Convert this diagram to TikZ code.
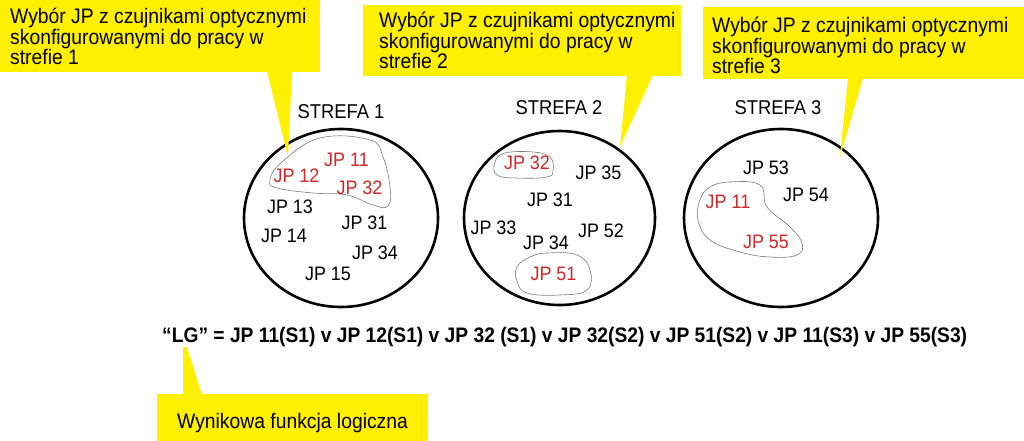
\documentclass[tikz,border=0pt]{standalone}
\usepackage{fontspec}
\setmainfont{Liberation Sans}[FakeStretch=0.92]
\usepackage{graphicx}
\usetikzlibrary{shapes.geometric}
\definecolor{callyellow}{RGB}{255,240,0}
\definecolor{jpred}{RGB}{210,40,40}
\definecolor{blobgray}{RGB}{120,120,120}
\tikzset{
  calloutbox/.style={fill=callyellow, draw=none},
  callouttext/.style={anchor=north west, inner sep=0pt, align=left, font=\fontsize{21}{20.5}\selectfont},
  zone/.style={draw=black, line width=2.6pt, ellipse, inner sep=0pt},
  zonelabel/.style={inner sep=0pt, font=\fontsize{20}{20}\selectfont},
  jp/.style={inner sep=0pt, font=\fontsize{19.5}{19.5}\selectfont},
  jpsel/.style={jp, text=jpred},
  blob/.style={draw=blobgray, line width=0.6pt},
}
\begin{document}
\begin{tikzpicture}[x=1pt,y=-1pt]
\useasboundingbox (0,0) rectangle (1024,441);
\fill[white] (0,0) rectangle (1024,441);

% zones
\node[zone, minimum width=194pt, minimum height=178pt] (z1) at (341,218) {};
\node[zone, minimum width=191pt, minimum height=174pt] (z2) at (559.5,218) {};
\node[zone, minimum width=194pt, minimum height=178pt] (z3) at (781,218) {};

\node[zonelabel] (s1) at (341,112) {STREFA 1};
\node[zonelabel] (s2) at (559,108) {STREFA 2};
\node[zonelabel] (s3) at (778,108) {STREFA 3};

% selection blobs
\draw[blob] plot[smooth cycle, tension=0.7] coordinates {(270,180) (282,162) (320,138) (370,140) (383,157) (390,187) (388,206) (373,205) (347,195) (313,193) (277,188)};
\draw[blob] plot[smooth cycle, tension=0.7] coordinates {(495,162) (505,153) (533,152) (550,157) (553,170) (547,177) (517,178) (497,175)};
\draw[blob] plot[smooth cycle, tension=0.7] coordinates {(517,267) (530,257) (547,253) (577,255) (590,270) (587,290) (560,295) (527,293) (517,281)};
\draw[blob] plot[smooth cycle, tension=0.7] coordinates {(700,200) (710,187) (730,182) (760,185) (767,207) (790,227) (802,243) (797,255) (770,257) (740,252) (710,240) (698,220)};

% zone 1
\node[jpsel] (a11) at (346.5,160) {JP 11};
\node[jpsel] (a12) at (296.5,176) {JP 12};
\node[jpsel] (a32) at (359.5,188) {JP 32};
\node[jp] (a13) at (290,207) {JP 13};
\node[jp] (a31) at (364.5,223) {JP 31};
\node[jp] (a14) at (284,236) {JP 14};
\node[jp] (a34) at (375,253) {JP 34};
\node[jp] (a15) at (328,274) {JP 15};

% zone 2
\node[jpsel] (b32) at (527,163) {JP 32};
\node[jp] (b35) at (598.5,173) {JP 35};
\node[jp] (b31) at (550,200) {JP 31};
\node[jp] (b33) at (493.5,228) {JP 33};
\node[jp] (b52) at (601,231) {JP 52};
\node[jp] (b34) at (546,243) {JP 34};
\node[jpsel] (b51) at (553.5,274) {JP 51};

% zone 3
\node[jp] (c53) at (766,168) {JP 53};
\node[jp] (c54) at (806,195) {JP 54};
\node[jpsel] (c11) at (728,202) {JP 11};
\node[jpsel] (c55) at (766,242) {JP 55};

% callouts
\fill[calloutbox] (0,0) rectangle (320,72);
\coordinate (t1) at (288,157);
\fill[calloutbox] (267,71) -- (t1) -- (292,71) -- cycle;
\node[callouttext] (k1) at (10,8) {Wybór JP z czujnikami optycznymi\\skonfigurowanymi do pracy w\\strefie 1};

\fill[calloutbox] (363,5) rectangle (681,76);
\coordinate (t2) at (620,147);
\fill[calloutbox] (627,75) -- (t2) -- (653,75) -- cycle;
\node[callouttext] (k2) at (379,12) {Wybór JP z czujnikami optycznymi\\skonfigurowanymi do pracy w\\strefie 2};

\fill[calloutbox] (703,7) rectangle (1024,79);
\coordinate (t3) at (840,157);
\fill[calloutbox] (848,78) -- (t3) -- (863,78) -- cycle;
\node[callouttext] (k3) at (712,17) {Wybór JP z czujnikami optycznymi\\skonfigurowanymi do pracy w\\strefie 3};

% equation
\node[inner sep=0pt, anchor=base west] (eq) at (162,342) {\resizebox{805pt}{\height}{\bfseries\fontsize{21}{21}\selectfont “LG” = JP 11(S1) v JP 12(S1) v JP 32 (S1) v JP 32(S2) v JP 51(S2) v JP 11(S3) v JP 55(S3)}};

% bottom callout
\fill[calloutbox] (157,394) rectangle (428,441);
\coordinate (t4) at (183,347);
\fill[calloutbox] (183,395) -- (t4) -- (187,347) -- (202,395) -- cycle;
\node[inner sep=0pt, anchor=base west, font=\fontsize{21}{21}\selectfont] (k4) at (177,428) {Wynikowa funkcja logiczna};
\end{tikzpicture}
\end{document}
